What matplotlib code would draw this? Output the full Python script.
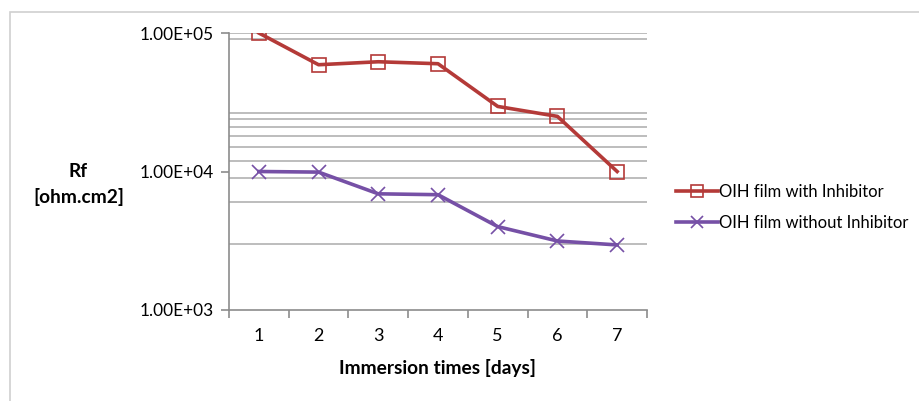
import numpy as np
import matplotlib as mpl
mpl.use("Agg")
import matplotlib.pyplot as plt
from matplotlib.patches import Rectangle
from matplotlib.ticker import FixedLocator, NullLocator

days = [1, 2, 3, 4, 5, 6, 7]
rf_with_inhibitor = [1.0e5, 5.9e4, 6.2e4, 6.0e4, 2.95e4, 2.5e4, 1.0e4]
rf_without_inhibitor = [1.0e4, 9.9e3, 6.9e3, 6.8e3, 4.0e3, 3.15e3, 2.95e3]
grid_values = [3e3, 6e3, 9e3, 1.2e4, 1.5e4, 1.8e4, 2.1e4, 2.4e4, 2.65e4, 9e4, 1e5]
y_ticks = [1e3, 1e4, 1e5]
y_tick_labels = ["1.00E+03", "1.00E+04", "1.00E+05"]
labels = ["OIH film with Inhibitor", "OIH film without Inhibitor"]

RED = "#B43A38"
PURPLE = "#7650A6"
AXIS_GREY = "#8C8C8C"
GRID_GREY = "#BDBDBD"

plt.rcParams["font.family"] = ["Lato", "DejaVu Sans"]
plt.rcParams["font.size"] = 12.4

fig = plt.figure(figsize=(9.2, 4.01), dpi=100)
ax = fig.add_axes([229 / 920, 1 - 310 / 401, (647 - 229) / 920, (310 - 33) / 401])

# light outline of the chart area (cropped at right and bottom)
fig.patches.append(Rectangle((10 / 920, -0.1), 1.2, 1 - 12 / 401 + 0.1,
                             transform=fig.transFigure, fill=False,
                             edgecolor="#D0D0D0", linewidth=1.2))

ax.set_yscale("log")
ax.set_ylim(1e3, 1e5)
ax.set_xlim(0.5, 7.5)

for v in grid_values:
    ax.axhline(v, color=GRID_GREY, linewidth=1.4, zorder=1)

ax.plot(days, rf_with_inhibitor, color=RED, linewidth=2.6, marker="s",
        markersize=10, markerfacecolor="none", markeredgecolor=RED,
        markeredgewidth=1.2, label=labels[0], zorder=3)
ax.plot(days, rf_without_inhibitor, color=PURPLE, linewidth=2.6, marker="x",
        markersize=10, markeredgecolor=PURPLE, markeredgewidth=1.2,
        label=labels[1], zorder=3)

ax.yaxis.set_major_locator(FixedLocator(y_ticks))
ax.yaxis.set_minor_locator(NullLocator())
ax.set_yticklabels(y_tick_labels)
ax.set_xticks(days)
ax.xaxis.set_minor_locator(FixedLocator(np.arange(0.5, 8, 1)))
ax.tick_params(axis="x", which="major", length=0, pad=13, labelsize=13)
ax.tick_params(axis="x", which="minor", length=6, color=AXIS_GREY, width=1.2)
ax.tick_params(axis="y", which="major", length=6, color=AXIS_GREY, width=1.2, pad=5)

for side in ["top", "right"]:
    ax.spines[side].set_visible(False)
for side in ["left", "bottom"]:
    ax.spines[side].set_color(AXIS_GREY)
    ax.spines[side].set_linewidth(1.2)

fig.text(78 / 920, 1 - 172 / 401, "Rf", ha="center", va="center", fontweight="bold",
         fontsize=13.8)
fig.text(79 / 920, 1 - 197 / 401, "[ohm.cm2]", ha="center", va="center", fontweight="bold",
         fontsize=13.8)
fig.text(438 / 920, 1 - 368 / 401, "Immersion times [days]", ha="center", va="center",
         fontweight="bold", fontsize=13.8)

leg = ax.legend(loc="center left", bbox_to_anchor=(676 / 920, 1 - 207 / 401),
                bbox_transform=fig.transFigure, frameon=False, handlelength=2.5,
                handletextpad=0.1, labelspacing=0.9, borderpad=0, borderaxespad=0,
                fontsize=12)
for h in leg.legend_handles:
    h.set_markersize(8)

fig.savefig("out.png", dpi=100)
